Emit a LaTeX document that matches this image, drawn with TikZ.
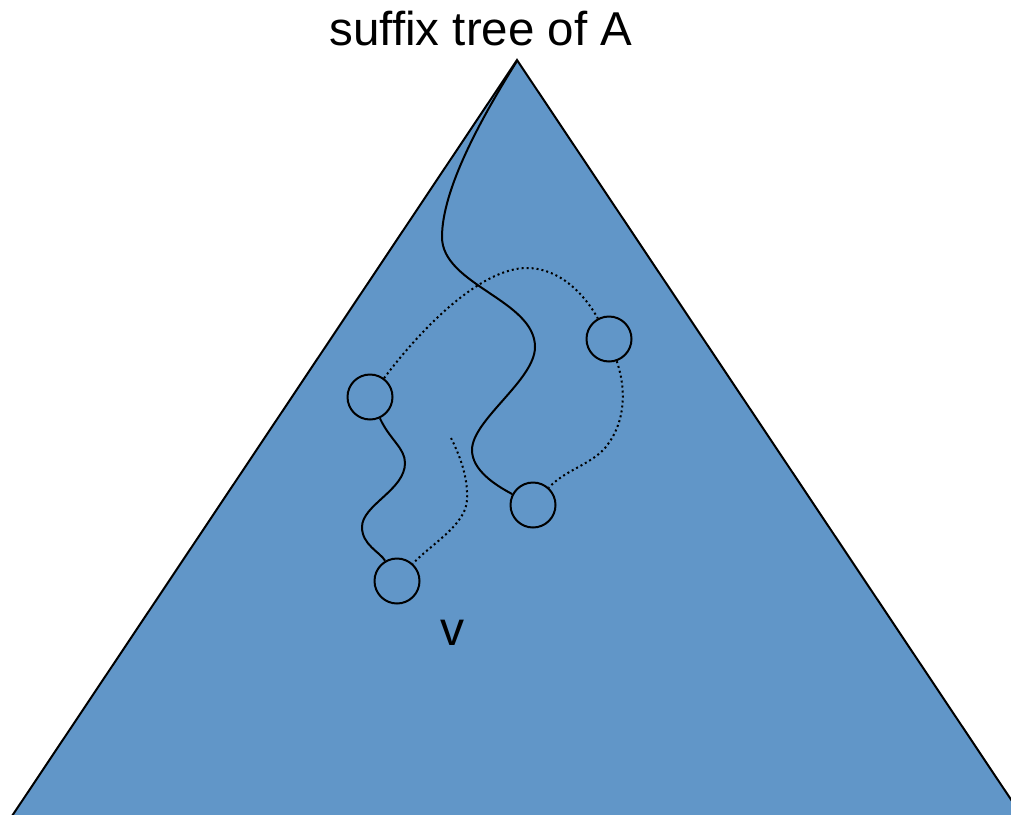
\documentclass[tikz,border=0pt]{standalone}
\usepackage{fontspec}
\setmainfont{Liberation Sans}
\definecolor{treeblue}{HTML}{6196C8}
\tikzset{
  vnode/.style={circle, draw=black, line width=2pt, minimum size=45pt, inner sep=0pt},
  solidedge/.style={draw=black, line width=2pt},
  dotedge/.style={draw=black, line width=2pt, dash pattern=on 2pt off 3pt},
  titletext/.style={inner sep=0pt, font=\fontsize{47.5}{50}\selectfont},
  labeltext/.style={inner sep=0pt, font=\fontsize{48}{50}\selectfont}
}
\begin{document}
\begin{tikzpicture}[x=1pt, y=-1pt]
\useasboundingbox (0,0) rectangle (1011,814);
\begin{scope}
\clip (0,0) rectangle (1011,814);
\draw[fill=treeblue, line width=2pt, line join=miter] (517,60) -- (8,822) -- (1026,822) -- cycle;
\end{scope}
\coordinate (apex) at (517,61);
\node[vnode] (c1) at (370,397) {};
\node[vnode] (c2) at (609,339) {};
\node[vnode] (c3) at (533,505) {};
\node[vnode] (c4) at (397,581) {};
\coordinate (d3) at (451,438);
% solid paths
\draw[solidedge] (apex) .. controls (480,120) and (442,190) .. (442,237)
  .. controls (442,285) and (535,300) .. (535,347)
  .. controls (535,380) and (472,420) .. (472,450)
  .. controls (472,470) and (495,485) .. (c3);
\draw[solidedge] (c1) .. controls (390,440) and (405,448) .. (405,463)
  .. controls (405,490) and (362,505) .. (362,527)
  .. controls (362,545) and (380,552) .. (c4);
% dotted paths
\draw[dotedge] (c1) .. controls (420,330) and (480,268) .. (527,268)
  .. controls (560,268) and (585,295) .. (c2);
\draw[dotedge] (c2) .. controls (625,385) and (628,420) .. (605,448)
  .. controls (590,465) and (565,470) .. (c3);
\draw[dotedge] (d3) .. controls (462,460) and (468,480) .. (467,500)
  .. controls (466,525) and (430,545) .. (c4);
% texts
\node[titletext, anchor=base] (title) at (481,45) {suffix tree of A};
\node[labeltext, anchor=base] (vlabel) at (452,645) {v};
\end{tikzpicture}
\end{document}
